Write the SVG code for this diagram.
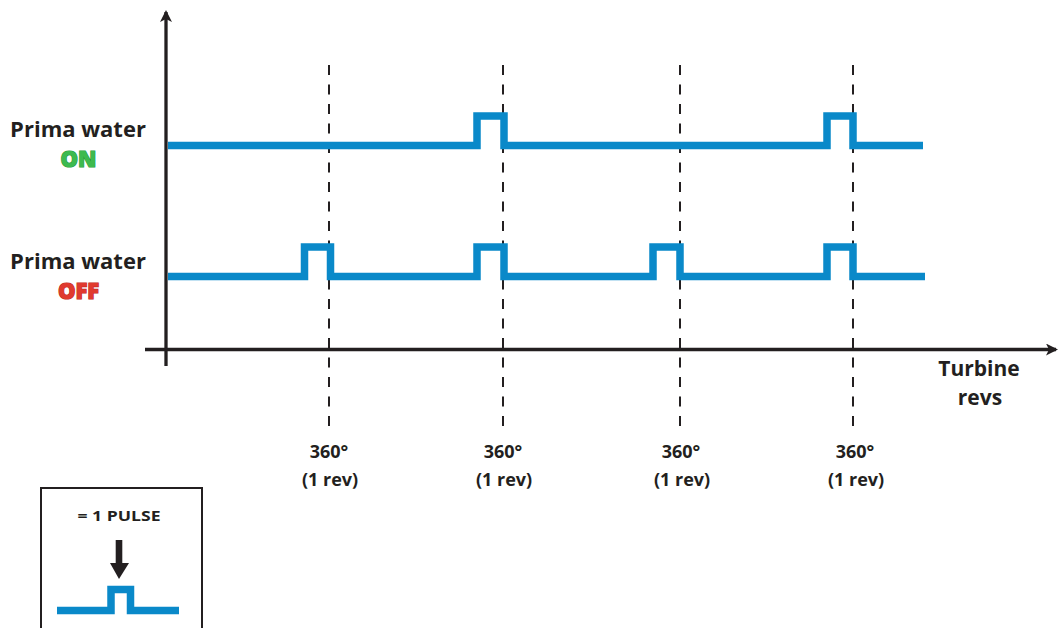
<svg xmlns="http://www.w3.org/2000/svg" width="1059" height="628" viewBox="0 0 1059 628">
<style>
.lbl{font-family:"Open Sans","Liberation Sans",sans-serif;font-weight:700;fill:#231f20;text-anchor:middle}
.sig{fill:none;stroke:#0a89c9;stroke-width:7.5;stroke-linejoin:miter;stroke-linecap:butt}
.dash{stroke:#231f20;stroke-width:2;stroke-dasharray:10 9.5}
.axis{stroke:#231f20;stroke-width:3.3;fill:none}
.state{font-family:"Open Sans","Liberation Sans",sans-serif;font-weight:800;font-size:22px;text-anchor:middle;stroke-width:1.2;paint-order:stroke}
</style>
<defs>
<marker id="ah" viewBox="0 0 12 12" refX="10" refY="6" markerWidth="12" markerHeight="12" markerUnits="userSpaceOnUse" orient="auto">
<path d="M0,0 L12,6 L0,12 L3,6 Z" fill="#231f20"/>
</marker>
</defs>
<rect width="1059" height="628" fill="#ffffff"/>
<g id="connectors">
<line class="dash" x1="329" y1="65" x2="329" y2="430"/>
<line class="dash" x1="503" y1="65" x2="503" y2="430"/>
<line class="dash" x1="680" y1="65" x2="680" y2="430"/>
<line class="dash" x1="853" y1="65" x2="853" y2="430"/>
<line class="axis" x1="166" y1="366" x2="166" y2="12" marker-end="url(#ah)"/>
<line class="axis" x1="145" y1="349.5" x2="1056" y2="349.5" marker-end="url(#ah)"/>
</g>
<g id="signal-on">
<path class="sig" d="M168,145.5 H477 V116 H504 V145.5 H827 V116 H853 V145.5 H923"/>
</g>
<g id="signal-off">
<path class="sig" d="M168,276.5 H304.5 V247 H330.5 V276.5 H477 V247 H504 V276.5 H653 V247 H680 V276.5 H827 V247 H853 V276.5 H925"/>
</g>
<g id="label-on">
<text class="lbl" x="78" y="137" font-size="22">Prima water</text>
<text class="state" x="78.5" y="166.5" fill="#3dba4e" stroke="#1f9a3a">ON</text>
</g>
<g id="label-off">
<text class="lbl" x="78" y="268.5" font-size="22">Prima water</text>
<text class="state" x="78.5" y="298.5" fill="#e03a2f" stroke="#c02a24">OFF</text>
</g>
<g id="label-turbine">
<text class="lbl" x="979" y="375.5" font-size="21">Turbine</text>
<text class="lbl" x="980" y="404.5" font-size="21">revs</text>
</g>
<g id="rev-labels">
<text class="lbl" x="329" y="458" font-size="18">360°</text>
<text class="lbl" x="330" y="486" font-size="18">(1 rev)</text>
<text class="lbl" x="503" y="458" font-size="18">360°</text>
<text class="lbl" x="504" y="486" font-size="18">(1 rev)</text>
<text class="lbl" x="681" y="458" font-size="18">360°</text>
<text class="lbl" x="682" y="486" font-size="18">(1 rev)</text>
<text class="lbl" x="855" y="458" font-size="18">360°</text>
<text class="lbl" x="856" y="486" font-size="18">(1 rev)</text>
</g>
<g id="legend">
<rect x="41" y="488" width="161" height="150" fill="none" stroke="#231f20" stroke-width="2"/>
<text class="lbl" x="119" y="521" font-size="14.5" textLength="83" lengthAdjust="spacingAndGlyphs">= 1 PULSE</text>
<rect x="115.7" y="540" width="6.6" height="26" fill="#231f20"/>
<path d="M110,563 L129,563 L119,579 Z" fill="#231f20"/>
<path class="sig" d="M57,610.5 H111 V589.5 H130.5 V610.5 H179"/>
</g>
</svg>
